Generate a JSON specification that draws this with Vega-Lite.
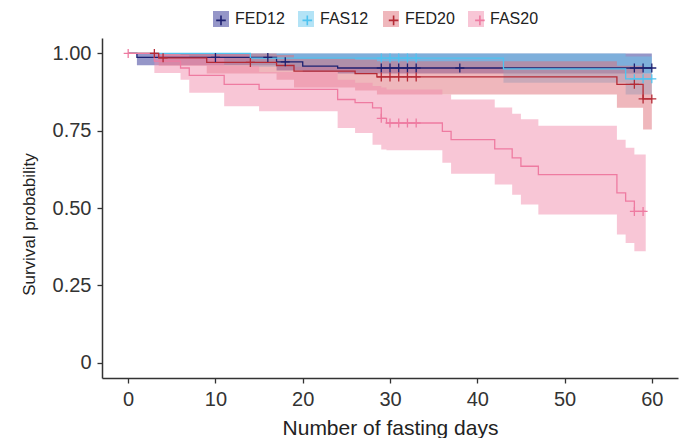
{
  "$schema": "https://vega.github.io/schema/vega-lite/v6.json",
  "width": 576,
  "height": 340,
  "autosize": {"type": "none"},
  "padding": {"left": 102, "top": 38, "right": 8, "bottom": 60},
  "background": "white",
  "config": {
    "view": {"stroke": null},
    "font": "Liberation Sans",
    "axis": {
      "grid": false,
      "domainColor": "#333333",
      "domainWidth": 1.5,
      "tickColor": "#333333",
      "tickWidth": 1.3,
      "tickSize": 5,
      "labelFont": "Liberation Sans",
      "labelFontSize": 20,
      "labelColor": "#333333",
      "labelPadding": 6,
      "labelFlush": false,
      "labelOverlap": false,
      "titleFont": "Liberation Sans",
      "titleFontWeight": "normal",
      "titleColor": "#222222"
    },
    "legend": {
      "labelFont": "Liberation Sans",
      "labelFontSize": 16,
      "labelColor": "#222222"
    }
  },
  "datasets": {
    "curves": [
      {"group": "FED12", "day": 0, "surv": 1, "lower": 1, "upper": 1},
      {"group": "FED12", "day": 1, "surv": 0.987, "lower": 0.962, "upper": 1},
      {"group": "FED12", "day": 17, "surv": 0.973, "lower": 0.945, "upper": 1},
      {"group": "FED12", "day": 20, "surv": 0.959, "lower": 0.94, "upper": 1},
      {"group": "FED12", "day": 24, "surv": 0.953, "lower": 0.935, "upper": 1},
      {"group": "FED12", "day": 60, "surv": 0.953, "lower": 0.935, "upper": 1},
      {"group": "FAS12", "day": 0, "surv": 1, "lower": 1, "upper": 1},
      {"group": "FAS12", "day": 14, "surv": 0.985, "lower": 0.957, "upper": 1},
      {"group": "FAS12", "day": 43, "surv": 0.95, "lower": 0.905, "upper": 1},
      {"group": "FAS12", "day": 57, "surv": 0.918, "lower": 0.867, "upper": 0.99},
      {"group": "FAS12", "day": 60, "surv": 0.918, "lower": 0.867, "upper": 0.99},
      {"group": "FED20", "day": 0, "surv": 1, "lower": 1, "upper": 1},
      {"group": "FED20", "day": 3.5, "surv": 0.986, "lower": 0.96, "upper": 1},
      {"group": "FED20", "day": 9, "surv": 0.971, "lower": 0.935, "upper": 1},
      {"group": "FED20", "day": 17, "surv": 0.961, "lower": 0.915, "upper": 0.995},
      {"group": "FED20", "day": 19, "surv": 0.943, "lower": 0.89, "upper": 0.985},
      {"group": "FED20", "day": 26, "surv": 0.935, "lower": 0.88, "upper": 0.98},
      {"group": "FED20", "day": 28.5, "surv": 0.924, "lower": 0.867, "upper": 0.975},
      {"group": "FED20", "day": 56, "surv": 0.9, "lower": 0.824, "upper": 0.96},
      {"group": "FED20", "day": 59, "surv": 0.853, "lower": 0.754, "upper": 0.935},
      {"group": "FED20", "day": 60, "surv": 0.853, "lower": 0.754, "upper": 0.935},
      {"group": "FAS20", "day": 0, "surv": 1, "lower": 1, "upper": 1},
      {"group": "FAS20", "day": 3, "surv": 0.975, "lower": 0.937, "upper": 1},
      {"group": "FAS20", "day": 6, "surv": 0.953, "lower": 0.915, "upper": 0.995},
      {"group": "FAS20", "day": 7, "surv": 0.929, "lower": 0.873, "upper": 0.985},
      {"group": "FAS20", "day": 11, "surv": 0.9, "lower": 0.829, "upper": 0.96},
      {"group": "FAS20", "day": 15, "surv": 0.884, "lower": 0.813, "upper": 0.94},
      {"group": "FAS20", "day": 24, "surv": 0.851, "lower": 0.759, "upper": 0.915},
      {"group": "FAS20", "day": 26, "surv": 0.841, "lower": 0.743, "upper": 0.905},
      {"group": "FAS20", "day": 28, "surv": 0.824, "lower": 0.705, "upper": 0.895},
      {"group": "FAS20", "day": 29, "surv": 0.79, "lower": 0.689, "upper": 0.89},
      {"group": "FAS20", "day": 29.6, "surv": 0.775, "lower": 0.687, "upper": 0.883},
      {"group": "FAS20", "day": 36, "surv": 0.748, "lower": 0.646, "upper": 0.867},
      {"group": "FAS20", "day": 37, "surv": 0.721, "lower": 0.611, "upper": 0.851},
      {"group": "FAS20", "day": 42, "surv": 0.691, "lower": 0.576, "upper": 0.825},
      {"group": "FAS20", "day": 44, "surv": 0.662, "lower": 0.543, "upper": 0.805},
      {"group": "FAS20", "day": 45, "surv": 0.635, "lower": 0.511, "upper": 0.787},
      {"group": "FAS20", "day": 47, "surv": 0.608, "lower": 0.479, "upper": 0.766},
      {"group": "FAS20", "day": 56, "surv": 0.549, "lower": 0.414, "upper": 0.721},
      {"group": "FAS20", "day": 57, "surv": 0.522, "lower": 0.387, "upper": 0.695},
      {"group": "FAS20", "day": 58, "surv": 0.489, "lower": 0.36, "upper": 0.673},
      {"group": "FAS20", "day": 59.3, "surv": 0.489, "lower": 0.36, "upper": 0.673}
    ],
    "censor": [
      {"group": "FED12", "day": 10, "surv": 0.987},
      {"group": "FED12", "day": 16, "surv": 0.987},
      {"group": "FED12", "day": 18, "surv": 0.973},
      {"group": "FED12", "day": 29, "surv": 0.953},
      {"group": "FED12", "day": 30, "surv": 0.953},
      {"group": "FED12", "day": 31, "surv": 0.953},
      {"group": "FED12", "day": 32, "surv": 0.953},
      {"group": "FED12", "day": 33, "surv": 0.953},
      {"group": "FED12", "day": 38, "surv": 0.953},
      {"group": "FED12", "day": 58, "surv": 0.953},
      {"group": "FED12", "day": 59, "surv": 0.953},
      {"group": "FED12", "day": 60, "surv": 0.953},
      {"group": "FAS12", "day": 29, "surv": 0.985},
      {"group": "FAS12", "day": 30, "surv": 0.985},
      {"group": "FAS12", "day": 31, "surv": 0.985},
      {"group": "FAS12", "day": 32, "surv": 0.985},
      {"group": "FAS12", "day": 33, "surv": 0.985},
      {"group": "FAS12", "day": 58, "surv": 0.918},
      {"group": "FAS12", "day": 59, "surv": 0.918},
      {"group": "FAS12", "day": 60, "surv": 0.918},
      {"group": "FED20", "day": 3, "surv": 1},
      {"group": "FED20", "day": 4, "surv": 0.986},
      {"group": "FED20", "day": 14, "surv": 0.971},
      {"group": "FED20", "day": 29, "surv": 0.924},
      {"group": "FED20", "day": 30, "surv": 0.924},
      {"group": "FED20", "day": 31, "surv": 0.924},
      {"group": "FED20", "day": 32, "surv": 0.924},
      {"group": "FED20", "day": 33, "surv": 0.924},
      {"group": "FED20", "day": 58, "surv": 0.9},
      {"group": "FED20", "day": 59, "surv": 0.853},
      {"group": "FED20", "day": 60, "surv": 0.853},
      {"group": "FAS20", "day": 0, "surv": 1},
      {"group": "FAS20", "day": 29, "surv": 0.79},
      {"group": "FAS20", "day": 30, "surv": 0.775},
      {"group": "FAS20", "day": 31, "surv": 0.775},
      {"group": "FAS20", "day": 32, "surv": 0.775},
      {"group": "FAS20", "day": 33, "surv": 0.775},
      {"group": "FAS20", "day": 58, "surv": 0.489},
      {"group": "FAS20", "day": 59, "surv": 0.489}
    ]
  },
  "layer": [
    {
      "data": {"name": "curves"},
      "mark": {"type": "area", "interpolate": "step-after", "opacity": 0.5},
      "encoding": {
        "x": {
          "field": "day", "type": "quantitative",
          "scale": {"domain": [-3, 63], "nice": false, "zero": false},
          "axis": {"values": [0, 10, 20, 30, 40, 50, 60], "title": "Number of fasting days", "titleFontSize": 21, "titlePadding": 8}
        },
        "y": {
          "field": "upper", "type": "quantitative",
          "scale": {"domain": [-0.05, 1.05], "nice": false, "zero": false},
          "axis": {"values": [0, 0.25, 0.5, 0.75, 1], "labelExpr": "datum.value == 0 ? '0' : format(datum.value, '.2f')", "title": "Survival probability", "titleFontSize": 17, "titlePadding": 14, "titleY": 186}
        },
        "y2": {"field": "lower"},
        "fill": {
          "field": "group", "type": "nominal",
          "scale": {"domain": ["FED12", "FAS12", "FED20", "FAS20"], "range": ["#2b2d91", "#67c7ed", "#e0707a", "#f18dad"]},
          "legend": {"title": null, "orient": "none", "direction": "horizontal", "columns": 4, "gridAlign": "all", "legendX": 111, "legendY": -27, "padding": 0, "offset": 0, "symbolType": "square", "symbolSize": 256, "symbolStrokeWidth": 0, "labelOffset": 6, "columnPadding": 13, "zindex": 0}
        }
      }
    },
    {
      "data": {"name": "curves"},
      "mark": {"type": "line", "interpolate": "step-after", "strokeWidth": 1.3},
      "encoding": {
        "x": {"field": "day", "type": "quantitative"},
        "y": {"field": "surv", "type": "quantitative"},
        "stroke": {
          "field": "group", "type": "nominal",
          "scale": {"domain": ["FED12", "FAS12", "FED20", "FAS20", "_"], "range": ["#1d2070", "#4fc3f0", "#b52a35", "#ee7ba1", "#000000"]},
          "legend": {"title": null, "values": ["FED12", "FAS12", "FED20", "FAS20"], "orient": "none", "direction": "horizontal", "columns": 4, "gridAlign": "all", "legendX": 110, "legendY": -27, "padding": 0, "offset": 0, "symbolType": "M-1,-1M1,1M-0.6,0H0.6M0,-0.6V0.6", "symbolSize": 256, "symbolStrokeWidth": 1.6, "symbolFillColor": "transparent", "labelExpr": "''", "labelOffset": 0, "columnPadding": 62.3, "zindex": 1}
        }
      }
    },
    {
      "data": {"name": "censor"},
      "mark": {"type": "point", "shape": "M-1,0H1M0,-1V1", "size": 81, "filled": false, "strokeWidth": 1.3, "opacity": 1},
      "encoding": {
        "x": {"field": "day", "type": "quantitative"},
        "y": {"field": "surv", "type": "quantitative"},
        "stroke": {
          "field": "group", "type": "nominal",
          "scale": {"domain": ["FED12", "FAS12", "FED20", "FAS20", "_"], "range": ["#1d2070", "#4fc3f0", "#b52a35", "#ee7ba1", "#000000"]}
        }
      }
    }
  ]
}
